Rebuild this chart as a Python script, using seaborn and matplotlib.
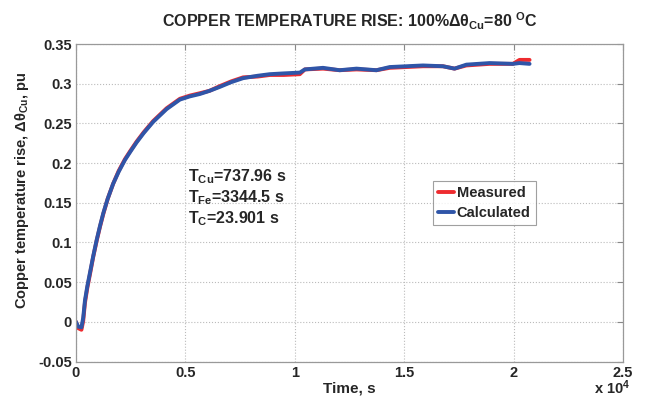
import numpy as np
import pandas as pd
import matplotlib
matplotlib.use("Agg")
import matplotlib.pyplot as plt
import seaborn as sns
from matplotlib.ticker import FuncFormatter

# ---- data ----
time_s = [0, 100, 250, 330, 411, 520, 640, 790, 945, 1100, 1250, 1450, 1700, 1950,
          2240, 2500, 2770, 3100, 3530, 4140, 4750, 5200, 5660, 6100, 6575, 7100,
          7640, 8300, 8860, 9500, 10230, 10460, 11290, 12050, 12820, 13730, 14340,
          15860, 16770, 17300, 17840, 18900, 19970, 20270, 20730]
measured = [0.000, -0.008, -0.010, 0.001, 0.024, 0.043, 0.060, 0.082, 0.102, 0.120,
            0.136, 0.155, 0.174, 0.190, 0.205, 0.216, 0.227, 0.239, 0.253, 0.269,
            0.281, 0.285, 0.288, 0.291, 0.297, 0.303, 0.308, 0.309, 0.311, 0.311,
            0.312, 0.318, 0.319, 0.317, 0.318, 0.317, 0.320, 0.322, 0.322, 0.319,
            0.323, 0.325, 0.325, 0.330, 0.330]
calculated = [0.000, -0.006, -0.007, 0.005, 0.027, 0.045, 0.062, 0.083, 0.103, 0.121,
              0.137, 0.155, 0.174, 0.189, 0.204, 0.215, 0.226, 0.238, 0.252, 0.268,
              0.280, 0.284, 0.287, 0.291, 0.296, 0.302, 0.307, 0.310, 0.312, 0.313,
              0.314, 0.318, 0.320, 0.317, 0.319, 0.317, 0.321, 0.323, 0.322, 0.319,
              0.324, 0.326, 0.325, 0.326, 0.325]
series_names = ["Measured", "Calculated"]
series_colors = ["#ee2b2f", "#2f55a8"]
x_ticks = [0, 5000, 10000, 15000, 20000, 25000]
y_ticks = [-0.05, 0, 0.05, 0.1, 0.15, 0.2, 0.25, 0.3, 0.35]
annotations = [r"T$_{\mathbf{Cu}}$=737.96 s", r"T$_{\mathbf{Fe}}$=3344.5 s",
               r"T$_{\mathbf{C}}$=23.901 s"]

df = pd.concat([
    pd.DataFrame({"t": time_s, "v": measured, "series": series_names[0]}),
    pd.DataFrame({"t": time_s, "v": calculated, "series": series_names[1]}),
])

sns.set_style("white")
plt.rcParams["font.family"] = ["Liberation Sans", "DejaVu Sans"]
plt.rcParams["font.weight"] = "bold"
plt.rcParams["mathtext.fontset"] = "custom"
plt.rcParams["mathtext.rm"] = "Liberation Sans"
plt.rcParams["mathtext.it"] = "Liberation Sans"
plt.rcParams["mathtext.bf"] = "Liberation Sans:bold"
plt.rcParams["axes.unicode_minus"] = False

fig = plt.figure(figsize=(6.46, 3.98), dpi=100)
ax = fig.add_axes([0.1176, 0.0917, 0.8468, 0.7977])

sns.lineplot(data=df, x="t", y="v", hue="series", palette=series_colors,
             hue_order=series_names, linewidth=2.8, ax=ax, sort=False)

ax.set_xlim(0, 25000)
ax.set_ylim(-0.05, 0.35)
ax.set_xticks(x_ticks)
ax.set_yticks(y_ticks)
ax.xaxis.set_major_formatter(FuncFormatter(lambda v, p: f"{v/1e4:g}"))
ax.yaxis.set_major_formatter(FuncFormatter(lambda v, p: f"{v:g}"))
ax.tick_params(direction="in", length=4, width=0.8, color="#888888",
               top=True, right=True, labelsize=10.5, pad=3)
for lab in ax.get_xticklabels() + ax.get_yticklabels():
    lab.set_fontweight("bold")
ax.grid(True, linestyle=":", color="#bbbbbb", linewidth=0.8)
for s in ax.spines.values():
    s.set_color("#999999")
    s.set_linewidth(0.9)

ax.set_xlabel("Time, s", fontsize=11, fontweight="bold")
ax.xaxis.set_label_coords(0.5, -0.062)
ax.set_ylabel(r"Copper temperature rise, $\Delta\theta_{\mathbf{Cu}}$, pu",
              fontsize=10.5, fontweight="bold")
ax.yaxis.set_label_coords(-0.083, 0.54)
ax.set_title(r"COPPER TEMPERATURE RISE: 100%$\Delta\theta_{\mathbf{Cu}}$=80 $^{\mathbf{O}}$C",
             fontsize=11.5, fontweight="bold", pad=12)
ax.text(1.013, -0.102, r"x 10$^{\mathbf{4}}$", transform=ax.transAxes, ha="right",
        va="baseline", fontsize=10.5, fontweight="bold")

for i, s in enumerate(annotations):
    ax.text(5100, 0.177 - i * 0.0265, s, fontsize=11.5, fontweight="bold",
            va="baseline", ha="left")

leg = ax.legend(loc="upper left", bbox_to_anchor=(0.652, 0.569), borderaxespad=0,
                frameon=True, fancybox=False, handlelength=1.1, handletextpad=0.2,
                borderpad=0.35, labelspacing=0.4, prop={"weight": "bold", "size": 10.5})
leg.get_frame().set_edgecolor("#888888")
leg.get_frame().set_linewidth(0.8)
leg.set_title(None)

fig.savefig("out.png", dpi=100)
